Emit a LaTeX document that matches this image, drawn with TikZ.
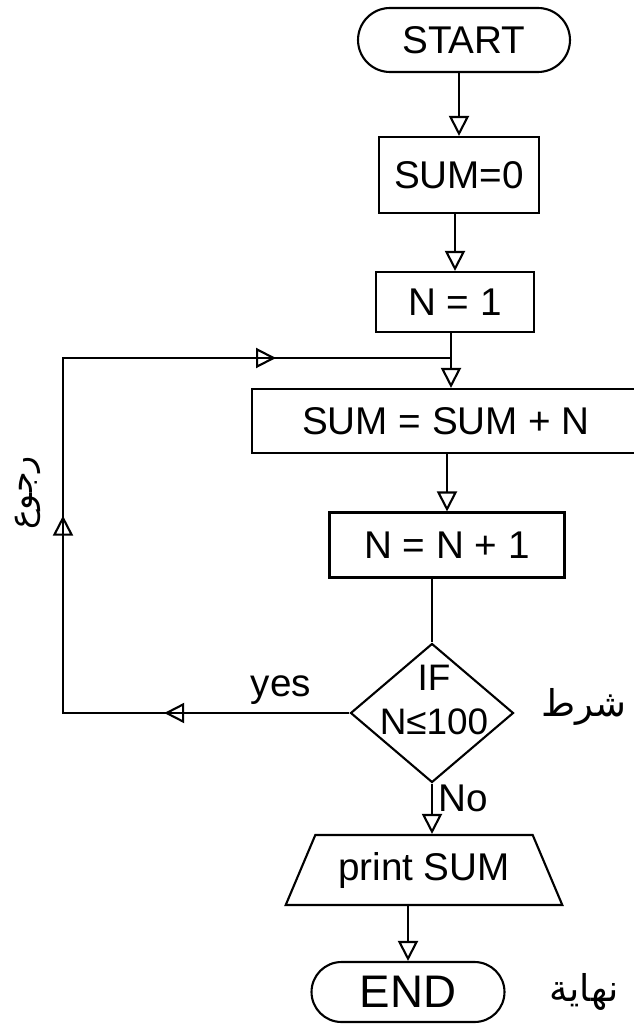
\documentclass[tikz,border=0pt]{standalone}
\usepackage{fontspec}
\setmainfont{Liberation Sans}
\newfontfamily\arabicfont[Script=Arabic]{DejaVu Sans}
\TeXXeTstate=1
\usetikzlibrary{arrows.meta,shapes.misc,shapes.geometric,decorations.markings}

\begin{document}
\begin{tikzpicture}[x=0.02cm,y=-0.02cm,line width=1.2pt,
    >={Triangle[open,length=4mm,width=4mm]},
    every node/.style={font=\fontsize{22}{26}\selectfont},
    box/.style={draw,rectangle,inner sep=0pt},
    term/.style={draw,rounded rectangle,inner sep=0pt},
    arlbl/.style={font=\fontsize{19}{22}\selectfont\arabicfont},
    loopline/.style={postaction={decorate},decoration={markings,
      mark=at position 0.18 with {\arrow{>}},
      mark=at position 0.47 with {\arrow{>}},
      mark=at position 0.83 with {\arrow{>}}}}]
  \useasboundingbox (0,0) rectangle (634,1026);
  \node[term,minimum width=4.24cm,minimum height=1.28cm] (start) at (464,40) {START};
  \node[box,minimum width=3.2cm,minimum height=1.52cm] (sum0) at (459,175) {SUM=0};
  \node[box,minimum width=3.16cm,minimum height=1.2cm] (n1) at (455,302) {N = 1};
  \node[box,minimum width=7.76cm,minimum height=1.28cm] (sumN) at (446,421) {SUM = SUM + N};
  \node[box,minimum width=4.7cm,minimum height=1.3cm] (nn1) at (447,545) {N = N + 1};
  \node[draw,diamond,inner sep=0pt,minimum width=3.26cm,minimum height=2.78cm] (cond) at (432,713) {};
  \node[align=center,font=\fontsize{21}{25}\selectfont] (condtxt) at (434,700) {IF\\N≤100};
  \node[draw,trapezium,trapezium left angle=57,trapezium right angle=57,trapezium stretches=true,
    inner sep=0pt,minimum width=5.54cm,minimum height=1.4cm] (print) at (424,870) {print SUM};
  \node[term,minimum width=3.86cm,minimum height=1.2cm,font=\fontsize{26}{30}\selectfont] (endn) at (408,992) {END};
  \coordinate (join) at (451,358);
  \coordinate (ltop) at (63,358);

  \draw[->] (start.south -| sum0.north) -- (sum0.north);
  \draw[->] (sum0.south -| n1.north) -- (n1.north);
  \draw (n1.south -| join) -- (join);
  \draw[->] (join) -- (join |- sumN.north);
  \draw[->] (sumN.south -| nn1.north) -- (nn1.north);
  \draw (nn1.south -| cond.north) -- (cond.north);
  \draw[->] (cond.south) -- (cond.south |- print.north);
  \draw[->] (print.south -| endn.north) -- (endn.north);
  \draw[loopline] (cond.west) -| (ltop) -- (join);

  \node (yeslbl) at (281,690) {yes};
  \node (nolbl) at (463,798) {No};
  \node[arlbl,rotate=90] (retlbl) at (28,493) {\beginR رجوع\endR};
  \node[arlbl,font=\fontsize{21}{24}\selectfont\arabicfont] (condlbl) at (584,707) {\beginR شرط\endR};
  \node[arlbl,font=\fontsize{21}{24}\selectfont\arabicfont] (endlbl) at (584,992) {\beginR نهاية\endR};
\end{tikzpicture}
\end{document}
